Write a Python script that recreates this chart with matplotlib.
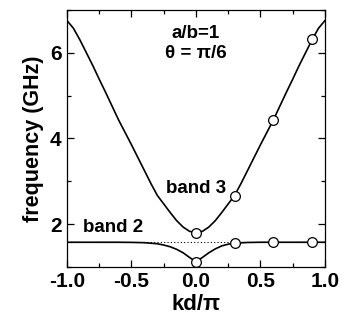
import numpy as np
import matplotlib
matplotlib.use("Agg")
import matplotlib.pyplot as plt
from matplotlib.ticker import MultipleLocator

plt.rcParams['font.family'] = ['Liberation Sans', 'DejaVu Sans']
plt.rcParams['font.weight'] = 'bold'

# band 3 curve
kd3 = [-1.0, -0.95, -0.9, -0.85, -0.8, -0.75, -0.7, -0.65, -0.6, -0.55, -0.5,
       -0.45, -0.4, -0.35, -0.3, -0.25, -0.2, -0.15, -0.1, -0.05, 0.0,
       0.05, 0.1, 0.15, 0.2, 0.25, 0.3, 0.35, 0.4, 0.45, 0.5,
       0.55, 0.6, 0.65, 0.7, 0.75, 0.8, 0.85, 0.9, 0.95, 1.0]
f3 = [6.75, 6.57, 6.30, 6.00, 5.70, 5.38, 5.07, 4.75, 4.43, 4.14, 3.85,
      3.55, 3.25, 2.95, 2.67, 2.47, 2.27, 2.08, 1.93, 1.83, 1.80,
      1.83, 1.93, 2.08, 2.27, 2.47, 2.67, 2.95, 3.25, 3.55, 3.85,
      4.14, 4.43, 4.75, 5.07, 5.38, 5.70, 6.00, 6.30, 6.57, 6.75]

# band 2 curve
kd2 = [-1.0, -0.6, -0.5, -0.4, -0.3, -0.25, -0.2, -0.15, -0.1, -0.05, 0.0,
       0.05, 0.1, 0.15, 0.2, 0.25, 0.3, 0.4, 0.5, 1.0]
f2 = [1.575, 1.575, 1.572, 1.565, 1.54, 1.51, 1.47, 1.41, 1.33, 1.22, 1.12,
      1.22, 1.33, 1.42, 1.49, 1.53, 1.555, 1.57, 1.575, 1.575]

# measured points
kd_pts3 = [0.0, 0.3, 0.6, 0.9]
f_pts3 = [1.80, 2.66, 4.43, 6.31]
kd_pts2 = [0.0, 0.3, 0.6, 0.9]
f_pts2 = [1.12, 1.56, 1.58, 1.58]

flat_level = 1.59

fig = plt.figure(figsize=(3.42, 3.2), dpi=100)
ax = fig.add_axes([0.196, 0.166, 0.754, 0.803])

ax.axhline(flat_level, color='k', lw=0.8, ls=(0, (1, 2)))
ax.plot(kd3, f3, color='k', lw=1.2)
ax.plot(kd2, f2, color='k', lw=1.2)
ax.plot(kd_pts3, f_pts3, 'o', mfc='white', mec='k', ms=7, mew=0.9)
ax.plot(kd_pts2, f_pts2, 'o', mfc='white', mec='k', ms=7, mew=0.9)

ax.set_xlim(-1, 1)
ax.set_ylim(1, 7)
ax.xaxis.set_major_locator(MultipleLocator(0.5))
ax.xaxis.set_minor_locator(MultipleLocator(0.25))
ax.yaxis.set_major_locator(MultipleLocator(2))
ax.yaxis.set_minor_locator(MultipleLocator(1))
ax.set_xticks([-1.0, -0.5, 0.0, 0.5, 1.0])
ax.set_xticklabels(['-1.0', '-0.5', '0.0', '0.5', '1.0'])
ax.tick_params(which='both', direction='in', top=True, right=True,
               labelsize=15, width=0.9)
ax.tick_params(which='major', length=5, pad=4)
ax.tick_params(which='minor', length=3)
for s in ax.spines.values():
    s.set_linewidth(0.9)

ax.set_xlabel('kd/π', fontsize=16, fontweight='bold', labelpad=2)
ax.set_ylabel('frequency (GHz)', fontsize=15.5, fontweight='bold', labelpad=4)

ax.text(0.0, 6.45, 'a/b=1', fontsize=13.5, fontweight='bold', ha='center', va='center')
ax.text(0.0, 5.98, 'θ = π/6', fontsize=13.5, fontweight='bold', ha='center', va='center')
ax.text(-0.23, 2.82, 'band 3', fontsize=13.5, fontweight='bold', ha='left', va='center')
ax.text(-0.88, 1.92, 'band 2', fontsize=13.5, fontweight='bold', ha='left', va='center')

fig.savefig('out.png', dpi=100)
